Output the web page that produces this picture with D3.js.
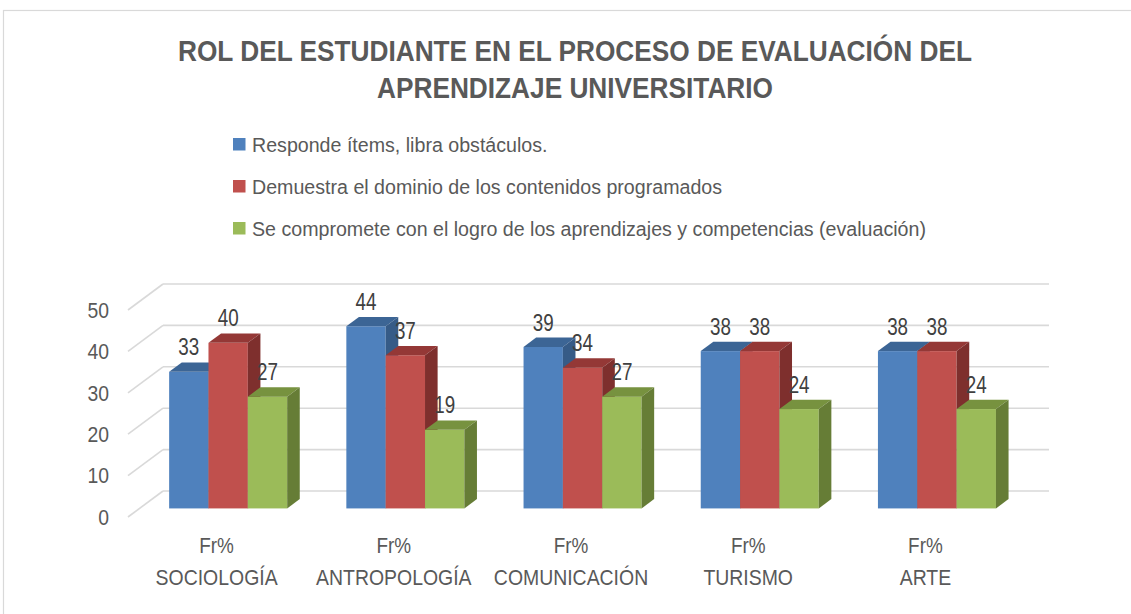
<!DOCTYPE html>
<html>
<head>
<meta charset="utf-8">
<script src="https://cdn.jsdelivr.net/npm/d3@7"></script>
<style>
  body { margin: 0; background: #fff; }
  text { font-family: "Liberation Sans Narrow", "Arial Narrow", "Liberation Sans", sans-serif; }
</style>
</head>
<body>
<div id="container"></div>
<script>
/* DATA */
const careers = ['SOCIOLOGÍA', 'ANTROPOLOGÍA', 'COMUNICACIÓN', 'TURISMO', 'ARTE'];
const subLabel = 'Fr%';
const seriesNames = [
  'Responde ítems, libra obstáculos.',
  'Demuestra el dominio de los contenidos programados',
  'Se compromete con el logro de los aprendizajes y competencias (evaluación)'
];
const responde = [33, 44, 39, 38, 38];
const demuestra = [40, 37, 34, 38, 38];
const compromete = [27, 19, 27, 24, 24];
const yTicks = [0, 10, 20, 30, 40, 50];
const titleLines = ['ROL DEL ESTUDIANTE EN EL PROCESO DE EVALUACIÓN DEL', 'APRENDIZAJE UNIVERSITARIO'];

/* CONSTANTS */
const width = 1131, height = 614;
const depthX = 35, depthY = 26;      // floor depth offset
const zFront = 0.33, zBack = 0.69;  // bars sit in the middle of the floor
const colors = [
  { front: '#4f81bd', top: '#3c6595', side: '#365b87' },
  { front: '#c0504d', top: '#943836', side: '#7e2f2d' },
  { front: '#9bbb59', top: '#77923f', side: '#667d36' }
];
const seriesValues = [responde, demuestra, compromete];

// narrow the fallback font horizontally around each text's own x
function squeeze(sel, sx) {
  sel.attr('transform', function () {
    const x = +d3.select(this).attr('x') || 0;
    return `translate(${x * (1 - sx)},0) scale(${sx},1)`;
  });
}

const svg = d3.select('#container')
  .append('svg')
  .attr('width', width)
  .attr('height', height);

// chart frame
svg.append('rect')
  .attr('x', 3.5).attr('y', 10.5)
  .attr('width', 1140).attr('height', 620)
  .attr('fill', 'none')
  .attr('stroke', '#d9d9d9')
  .attr('stroke-width', 1.2);

/* SCALES */
const xScale = d3.scaleBand()
  .domain(careers)
  .range([128, 1014])
  .paddingInner(0.334)
  .paddingOuter(0.167);

const xSub = d3.scaleBand()
  .domain(d3.range(seriesNames.length))
  .range([0, xScale.bandwidth()]);

const yScale = d3.scaleLinear()
  .domain([0, 50])
  .range([517, 310]);

/* TITLE */
svg.append('g')
  .selectAll('text')
  .data(titleLines)
  .join('text')
  .attr('x', 575)
  .attr('y', (d, i) => 61 + i * 37)
  .attr('text-anchor', 'middle')
  .attr('font-size', 30)
  .attr('font-weight', 'bold')
  .attr('fill', '#595959')
  .text(d => d)
  .call(squeeze, 0.875);

/* LEGEND */
const legend = svg.append('g')
  .selectAll('g')
  .data(seriesNames)
  .join('g')
  .attr('transform', (d, i) => `translate(233, ${138 + i * 42})`);

legend.append('rect')
  .attr('width', 12.5).attr('height', 12.5)
  .attr('fill', (d, i) => colors[i].front);

legend.append('text')
  .attr('x', 19)
  .attr('y', 14)
  .attr('font-size', 21)
  .attr('fill', '#595959')
  .text(d => d)
  .call(squeeze, 0.935);

/* GRID (back wall + floor edge) */
const grid = svg.append('g')
  .attr('stroke', '#d9d9d9')
  .attr('stroke-width', 1.6)
  .attr('fill', 'none');

const [x0, x1] = xScale.range();
yTicks.forEach(v => {
  grid.append('line')
    .attr('x1', x0 + depthX).attr('x2', x1 + depthX)
    .attr('y1', yScale(v) - depthY).attr('y2', yScale(v) - depthY);
  grid.append('line')
    .attr('x1', x0).attr('x2', x0 + depthX)
    .attr('y1', yScale(v)).attr('y2', yScale(v) - depthY);
});

svg.append('g')
  .selectAll('text')
  .data(yTicks)
  .join('text')
  .attr('x', 109)
  .attr('y', d => yScale(d))
  .attr('dy', '0.36em')
  .attr('text-anchor', 'end')
  .attr('font-size', 21.5)
  .attr('fill', '#595959')
  .text(d => d)
  .call(squeeze, 0.9);

/* BARS */
const bars = [];
careers.forEach((c, ci) => {
  seriesValues.forEach((vals, si) => {
    bars.push({ career: c, series: si, value: vals[ci] });
  });
});

const fdx = zFront * depthX, fdy = zFront * depthY;
const bdx = (zBack - zFront) * depthX, bdy = (zBack - zFront) * depthY;

const barG = svg.append('g')
  .selectAll('g')
  .data(bars)
  .join('g');

barG.each(function (d) {
  const g = d3.select(this);
  const xl = xScale(d.career) + xSub(d.series) + fdx;
  const xr = xl + xSub.bandwidth();
  const yb = yScale(0) - fdy;
  const yt = yScale(d.value) - fdy;
  const col = colors[d.series];

  g.append('rect')
    .attr('x', xl).attr('y', yt)
    .attr('width', xr - xl).attr('height', yb - yt)
    .attr('fill', col.front);

  g.append('polygon')
    .attr('points', [[xl, yt], [xl + bdx, yt - bdy], [xr + bdx, yt - bdy], [xr, yt]].join(' '))
    .attr('fill', col.top);

  g.append('polygon')
    .attr('points', [[xr, yt], [xr + bdx, yt - bdy], [xr + bdx, yb - bdy], [xr, yb]].join(' '))
    .attr('fill', col.side);
});

/* DATA LABELS */
svg.append('g')
  .selectAll('text')
  .data(bars)
  .join('text')
  .attr('x', d => xScale(d.career) + xSub(d.series) + xSub.bandwidth() / 2 + fdx)
  .attr('y', d => yScale(d.value) - zBack * depthY - 7)
  .attr('text-anchor', 'middle')
  .attr('font-size', 23.5)
  .attr('fill', '#404040')
  .text(d => d.value)
  .call(squeeze, 0.8);

/* CATEGORY LABELS */
const catG = svg.append('g')
  .selectAll('g')
  .data(careers)
  .join('g')
  .attr('transform', d => `translate(${xScale(d) + xScale.bandwidth() / 2}, 0)`);

catG.append('text')
  .attr('y', 553)
  .attr('text-anchor', 'middle')
  .attr('font-size', 22)
  .attr('fill', '#595959')
  .text(subLabel)
  .call(squeeze, 0.86);

catG.append('text')
  .attr('y', 585)
  .attr('text-anchor', 'middle')
  .attr('font-size', 22)
  .attr('fill', '#595959')
  .text(d => d)
  .call(squeeze, 0.883);
</script>
</body>
</html>
